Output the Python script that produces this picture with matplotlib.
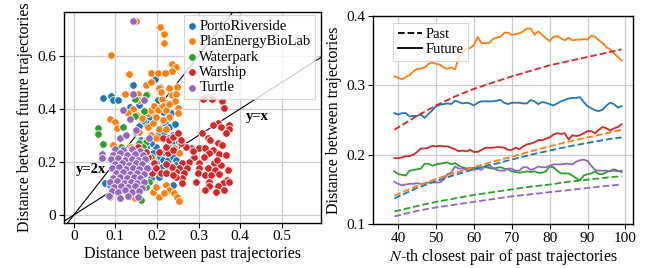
import matplotlib
matplotlib.use("Agg")
import matplotlib.pyplot as plt
from matplotlib.lines import Line2D

plt.rcParams['font.family'] = ['Liberation Serif', 'DejaVu Serif']
plt.rcParams['mathtext.fontset'] = 'stix'

# ---------------- scatter data (left panel) ----------------
categories = ["PortoRiverside", "PlanEnergyBioLab", "Waterpark", "Warship", "Turtle"]
colors = ["#1f77b4", "#ff7f0e", "#2ca02c", "#d62728", "#9467bd"]

porto_x = [0.071, 0.090, 0.094, 0.106, 0.142, 0.196, 0.208, 0.134, 0.156, 0.198, 0.214, 0.226, 0.220,
           0.228, 0.196, 0.182, 0.158, 0.150, 0.204, 0.238, 0.246, 0.236, 0.254, 0.230, 0.218, 0.198,
           0.186, 0.174, 0.204, 0.214, 0.226, 0.238, 0.246, 0.198, 0.212, 0.230, 0.246, 0.200, 0.214,
           0.230, 0.238, 0.206, 0.076, 0.086, 0.186, 0.178, 0.166, 0.190, 0.162, 0.226, 0.174, 0.166,
           0.234, 0.222, 0.202, 0.244, 0.218]
porto_y = [0.442, 0.448, 0.433, 0.433, 0.490, 0.512, 0.481, 0.406, 0.414, 0.399, 0.389, 0.364, 0.345,
           0.333, 0.377, 0.364, 0.335, 0.314, 0.308, 0.301, 0.282, 0.272, 0.276, 0.257, 0.239, 0.257,
           0.270, 0.257, 0.220, 0.207, 0.207, 0.217, 0.207, 0.195, 0.182, 0.182, 0.188, 0.163, 0.157,
           0.157, 0.113, 0.144, 0.122, 0.113, 0.138, 0.195, 0.195, 0.232, 0.282, 0.289, 0.345, 0.358,
           0.383, 0.421, 0.433, 0.342, 0.314]

plan_x = [0.150, 0.090, 0.208, 0.218, 0.216, 0.236, 0.246, 0.236, 0.186, 0.202, 0.220, 0.132, 0.174,
          0.186, 0.204, 0.230, 0.247, 0.122, 0.154, 0.177, 0.158, 0.212, 0.210, 0.236, 0.246, 0.244,
          0.142, 0.086, 0.098, 0.104, 0.110, 0.094, 0.130, 0.152, 0.178, 0.186, 0.194, 0.202, 0.214,
          0.222, 0.230, 0.250, 0.250, 0.230, 0.164, 0.178, 0.190, 0.214, 0.206, 0.186, 0.198, 0.174,
          0.138, 0.138, 0.158, 0.102, 0.088, 0.146, 0.190, 0.204, 0.222, 0.230, 0.240, 0.248, 0.252,
          0.198, 0.218, 0.238, 0.166, 0.190, 0.148, 0.114, 0.134, 0.242, 0.254, 0.222, 0.198, 0.158]
plan_y = [0.732, 0.605, 0.709, 0.682, 0.647, 0.569, 0.559, 0.544, 0.537, 0.534, 0.536, 0.531, 0.490,
          0.502, 0.477, 0.477, 0.481, 0.456, 0.456, 0.456, 0.433, 0.436, 0.465, 0.452, 0.458, 0.429,
          0.398, 0.362, 0.352, 0.327, 0.257, 0.264, 0.383, 0.377, 0.383, 0.395, 0.411, 0.395, 0.411,
          0.395, 0.418, 0.402, 0.383, 0.368, 0.364, 0.333, 0.345, 0.358, 0.326, 0.301, 0.289, 0.282,
          0.257, 0.220, 0.232, 0.157, 0.069, 0.063, 0.085, 0.069, 0.113, 0.094, 0.084, 0.069, 0.053,
          0.107, 0.082, 0.159, 0.169, 0.213, 0.201, 0.100, 0.088, 0.251, 0.232, 0.326, 0.370, 0.314]

water_x = [0.148, 0.174, 0.170, 0.146, 0.058, 0.058, 0.070, 0.118, 0.174, 0.158, 0.166, 0.114, 0.126,
           0.106, 0.094, 0.118, 0.138, 0.158, 0.174, 0.186, 0.182, 0.174, 0.158, 0.142, 0.106, 0.098,
           0.162, 0.150, 0.168, 0.130, 0.138, 0.110, 0.182, 0.146, 0.120, 0.114, 0.166, 0.094]
water_y = [0.439, 0.452, 0.393, 0.373, 0.329, 0.305, 0.267, 0.333, 0.275, 0.270, 0.257, 0.257, 0.239,
           0.207, 0.188, 0.176, 0.157, 0.188, 0.207, 0.220, 0.126, 0.107, 0.082, 0.094, 0.088, 0.113,
           0.056, 0.126, 0.157, 0.195, 0.232, 0.157, 0.182, 0.213, 0.132, 0.207, 0.226, 0.144]

war_x = [0.310, 0.333, 0.357, 0.360, 0.346, 0.334, 0.354, 0.373, 0.374, 0.366, 0.308, 0.322, 0.327,
         0.346, 0.356, 0.302, 0.316, 0.334, 0.282, 0.270, 0.258, 0.326, 0.350, 0.366, 0.312, 0.290,
         0.278, 0.260, 0.302, 0.338, 0.354, 0.300, 0.322, 0.340, 0.370, 0.254, 0.272, 0.246, 0.266,
         0.298, 0.316, 0.330, 0.350, 0.369, 0.358, 0.325, 0.294, 0.260, 0.246, 0.346, 0.325, 0.342,
         0.360, 0.373, 0.260, 0.236, 0.222, 0.226, 0.238, 0.222, 0.214, 0.230, 0.238, 0.250, 0.258,
         0.206, 0.192, 0.188, 0.178, 0.198, 0.210, 0.167, 0.179, 0.174, 0.154, 0.142, 0.135, 0.222,
         0.238, 0.344, 0.316, 0.286]
war_y = [0.439, 0.436, 0.431, 0.402, 0.348, 0.339, 0.333, 0.339, 0.323, 0.308, 0.310, 0.289, 0.282,
         0.270, 0.264, 0.251, 0.251, 0.245, 0.251, 0.257, 0.270, 0.232, 0.230, 0.226, 0.220, 0.220,
         0.201, 0.195, 0.195, 0.195, 0.188, 0.176, 0.176, 0.169, 0.169, 0.176, 0.176, 0.163, 0.157,
         0.157, 0.151, 0.151, 0.154, 0.132, 0.119, 0.126, 0.126, 0.138, 0.144, 0.109, 0.109, 0.088,
         0.094, 0.126, 0.119, 0.182, 0.192, 0.232, 0.245, 0.257, 0.289, 0.282, 0.295, 0.308, 0.282,
         0.239, 0.195, 0.157, 0.176, 0.176, 0.157, 0.220, 0.220, 0.239, 0.257, 0.239, 0.220, 0.157,
         0.151, 0.207, 0.095, 0.240]

turtle_x = [0.100, 0.118, 0.140, 0.160,
            0.095, 0.112, 0.128, 0.146, 0.166,
            0.090, 0.106, 0.122, 0.139, 0.155, 0.172,
            0.099, 0.116, 0.132, 0.149, 0.165,
            0.092, 0.108, 0.125, 0.142, 0.158, 0.175,
            0.101, 0.118, 0.134, 0.151, 0.168,
            0.094, 0.111, 0.127, 0.144, 0.160,
            0.088, 0.104, 0.120, 0.137, 0.153, 0.170,
            0.097, 0.114, 0.130, 0.147, 0.163,
            0.091, 0.107, 0.124, 0.140, 0.156,
            0.085, 0.112, 0.130, 0.155,
            0.142, 0.143, 0.168, 0.118, 0.068, 0.068, 0.134, 0.150, 0.180, 0.110, 0.125]
turtle_y = [0.248, 0.244, 0.250, 0.242,
            0.228, 0.232, 0.225, 0.230, 0.226,
            0.210, 0.214, 0.208, 0.212, 0.207, 0.211,
            0.193, 0.197, 0.190, 0.195, 0.191,
            0.176, 0.180, 0.174, 0.178, 0.173, 0.177,
            0.158, 0.162, 0.156, 0.160, 0.155,
            0.141, 0.145, 0.139, 0.143, 0.138,
            0.124, 0.128, 0.122, 0.126, 0.121, 0.125,
            0.107, 0.110, 0.104, 0.108, 0.103,
            0.090, 0.088, 0.093, 0.087, 0.091,
            0.070, 0.065, 0.072, 0.068,
            0.732, 0.456, 0.433, 0.395, 0.230, 0.216, 0.362, 0.320, 0.290, 0.290, 0.300]

scatter_x = [porto_x, plan_x, water_x, war_x, turtle_x]
scatter_y = [porto_y, plan_y, water_y, war_y, turtle_y]

# ---------------- line data (right panel) ----------------
n_future = list(range(39, 100))
fut_porto = [0.260, 0.258, 0.260, 0.260, 0.255, 0.256, 0.256, 0.258, 0.253, 0.259, 0.264, 0.270, 0.272,
             0.273, 0.274, 0.273, 0.278, 0.276, 0.274, 0.275, 0.274, 0.271, 0.275, 0.277, 0.277, 0.277,
             0.277, 0.278, 0.279, 0.275, 0.273, 0.275, 0.275, 0.275, 0.274, 0.274, 0.279, 0.277, 0.273,
             0.276, 0.275, 0.273, 0.271, 0.274, 0.277, 0.279, 0.281, 0.282, 0.282, 0.283, 0.276, 0.270,
             0.267, 0.264, 0.263, 0.265, 0.271, 0.275, 0.273, 0.268, 0.270]
fut_plan = [0.313, 0.311, 0.309, 0.312, 0.315, 0.320, 0.324, 0.324, 0.326, 0.331, 0.333, 0.331, 0.330,
            0.326, 0.324, 0.326, 0.323, 0.340, 0.348, 0.353, 0.354, 0.358, 0.370, 0.361, 0.361, 0.361,
            0.367, 0.369, 0.370, 0.376, 0.376, 0.373, 0.374, 0.375, 0.378, 0.382, 0.382, 0.373, 0.378,
            0.373, 0.368, 0.364, 0.370, 0.371, 0.368, 0.365, 0.369, 0.365, 0.366, 0.366, 0.367, 0.366,
            0.372, 0.370, 0.365, 0.361, 0.355, 0.352, 0.346, 0.341, 0.336]
fut_water = [0.176, 0.172, 0.171, 0.170, 0.177, 0.178, 0.179, 0.180, 0.187, 0.187, 0.184, 0.186, 0.187,
             0.188, 0.189, 0.186, 0.188, 0.184, 0.182, 0.180, 0.181, 0.181, 0.181, 0.182, 0.182, 0.181,
             0.180, 0.181, 0.182, 0.180, 0.179, 0.176, 0.175, 0.174, 0.175, 0.176, 0.175, 0.176, 0.174,
             0.174, 0.176, 0.183, 0.182, 0.177, 0.173, 0.173, 0.173, 0.170, 0.166, 0.163, 0.170, 0.172,
             0.173, 0.176, 0.172, 0.172, 0.175, 0.177, 0.179, 0.177, 0.175]
fut_war = [0.195, 0.195, 0.196, 0.198, 0.198, 0.200, 0.204, 0.209, 0.209, 0.210, 0.213, 0.212, 0.213,
           0.212, 0.212, 0.210, 0.208, 0.205, 0.206, 0.205, 0.207, 0.204, 0.204, 0.207, 0.210, 0.210,
           0.210, 0.211, 0.211, 0.210, 0.207, 0.207, 0.210, 0.208, 0.212, 0.215, 0.216, 0.218, 0.221,
           0.221, 0.223, 0.225, 0.229, 0.231, 0.230, 0.231, 0.222, 0.228, 0.227, 0.228, 0.231, 0.234,
           0.234, 0.231, 0.236, 0.240, 0.238, 0.235, 0.238, 0.240, 0.244]
fut_turtle = [0.161, 0.158, 0.156, 0.157, 0.158, 0.158, 0.159, 0.158, 0.158, 0.160, 0.160, 0.160, 0.160,
              0.164, 0.172, 0.174, 0.183, 0.180, 0.180, 0.178, 0.180, 0.178, 0.180, 0.178, 0.184, 0.185,
              0.181, 0.178, 0.177, 0.177, 0.180, 0.180, 0.177, 0.177, 0.182, 0.182, 0.178, 0.180, 0.183,
              0.182, 0.182, 0.184, 0.186, 0.186, 0.186, 0.187, 0.187, 0.186, 0.190, 0.192, 0.193, 0.191,
              0.184, 0.178, 0.177, 0.177, 0.177, 0.176, 0.177, 0.176, 0.177]

n_past = [39, 45, 50, 55, 60, 65, 70, 75, 80, 85, 90, 95, 99]
past_porto = [0.137, 0.152, 0.162, 0.171, 0.179, 0.186, 0.193, 0.200, 0.206, 0.212, 0.217, 0.222, 0.225]
past_plan = [0.141, 0.155, 0.165, 0.174, 0.182, 0.190, 0.197, 0.205, 0.212, 0.219, 0.225, 0.231, 0.236]
past_water = [0.118, 0.126, 0.132, 0.137, 0.142, 0.146, 0.150, 0.154, 0.157, 0.161, 0.164, 0.167, 0.169]
past_war = [0.236, 0.256, 0.271, 0.284, 0.295, 0.304, 0.313, 0.321, 0.329, 0.335, 0.341, 0.347, 0.352]
past_turtle = [0.111, 0.119, 0.124, 0.128, 0.132, 0.136, 0.140, 0.143, 0.146, 0.149, 0.152, 0.155, 0.157]

future_series = [fut_porto, fut_plan, fut_water, fut_war, fut_turtle]
past_series = [past_porto, past_plan, past_water, past_war, past_turtle]

left_xticks = [0, 0.1, 0.2, 0.3, 0.4, 0.5]
left_xticklabels = ["0", "0.1", "0.2", "0.3", "0.4", "0.5"]
left_yticks = [0, 0.2, 0.4, 0.6]
left_yticklabels = ["0", "0.2", "0.4", "0.6"]
right_xticks = [40, 50, 60, 70, 80, 90, 100]
right_yticks = [0.1, 0.2, 0.3, 0.4]

# ---------------- figure ----------------
fig = plt.figure(figsize=(6.57, 2.68), dpi=100)
ax1 = fig.add_axes([0.0974, 0.169, 0.391, 0.787])
ax2 = fig.add_axes([0.568, 0.164, 0.396, 0.776])

grid_kw = dict(color="#cccccc", linewidth=0.9)
for ax in (ax1, ax2):
    ax.set_axisbelow(True)
    ax.grid(True, **grid_kw)
    for s in ax.spines.values():
        s.set_color("black")
        s.set_linewidth(1.0)
    ax.tick_params(axis="both", labelsize=11, length=3.5, width=0.8, color="black", pad=2)

# left panel
ax1.axline((0, 0), slope=1, color="black", linewidth=0.8, zorder=1)
ax1.axline((0, 0), slope=2, color="black", linewidth=0.8, zorder=1)
for cat, col, xs, ys in zip(categories, colors, scatter_x, scatter_y):
    ax1.scatter(xs, ys, s=30, c=col, edgecolors="white", linewidths=0.6, label=cat, zorder=2)
ax1.text(0.006, 0.173, "y=2x", fontsize=10.5, fontweight="bold", va="center", ha="left")
ax1.text(0.413, 0.37, "y=x", fontsize=10.5, fontweight="bold", va="center", ha="left")
ax1.set_xlim(-0.0235, 0.594)
ax1.set_ylim(-0.029, 0.766)
ax1.set_xticks(left_xticks)
ax1.set_xticklabels(left_xticklabels)
ax1.set_yticks(left_yticks)
ax1.set_yticklabels(left_yticklabels)
ax1.set_xlabel("Distance between past trajectories", fontsize=11.5, labelpad=2)
ax1.set_ylabel("Distance between future trajectories", fontsize=11.5, labelpad=3)
leg1 = ax1.legend(loc="upper right", bbox_to_anchor=(0.977, 0.984), fontsize=10.5,
                  handlelength=0.5, handletextpad=0.25, labelspacing=0.15, borderpad=0.3,
                  borderaxespad=0.0, markerscale=1.0, frameon=True, fancybox=False,
                  edgecolor="#cccccc")
leg1.get_frame().set_linewidth(0.8)

# right panel
for col, ys in zip(colors, future_series):
    ax2.plot(n_future, ys, color=col, linewidth=1.3, linestyle="-")
for col, ys in zip(colors, past_series):
    ax2.plot(n_past, ys, color=col, linewidth=1.3, linestyle="--")
ax2.set_xlim(33.4, 102.1)
ax2.set_ylim(0.1, 0.4)
ax2.set_xticks(right_xticks)
ax2.set_yticks(right_yticks)
ax2.set_xlabel("$N$-th closest pair of past trajectories", fontsize=11.5, labelpad=2)
ax2.set_ylabel("Distance between trajectories", fontsize=11.5, labelpad=3)
handles = [Line2D([0], [0], color="black", linestyle="--", linewidth=1.3),
           Line2D([0], [0], color="black", linestyle="-", linewidth=1.3)]
leg2 = ax2.legend(handles, ["Past", "Future"], loc="upper left", bbox_to_anchor=(0.077, 0.966),
                  fontsize=10.5, handlelength=1.7, handletextpad=0.25, labelspacing=0.15,
                  borderpad=0.3, borderaxespad=0.0, frameon=True, fancybox=False,
                  edgecolor="#cccccc")
leg2.get_frame().set_linewidth(0.8)

fig.savefig("out.png", dpi=100)
